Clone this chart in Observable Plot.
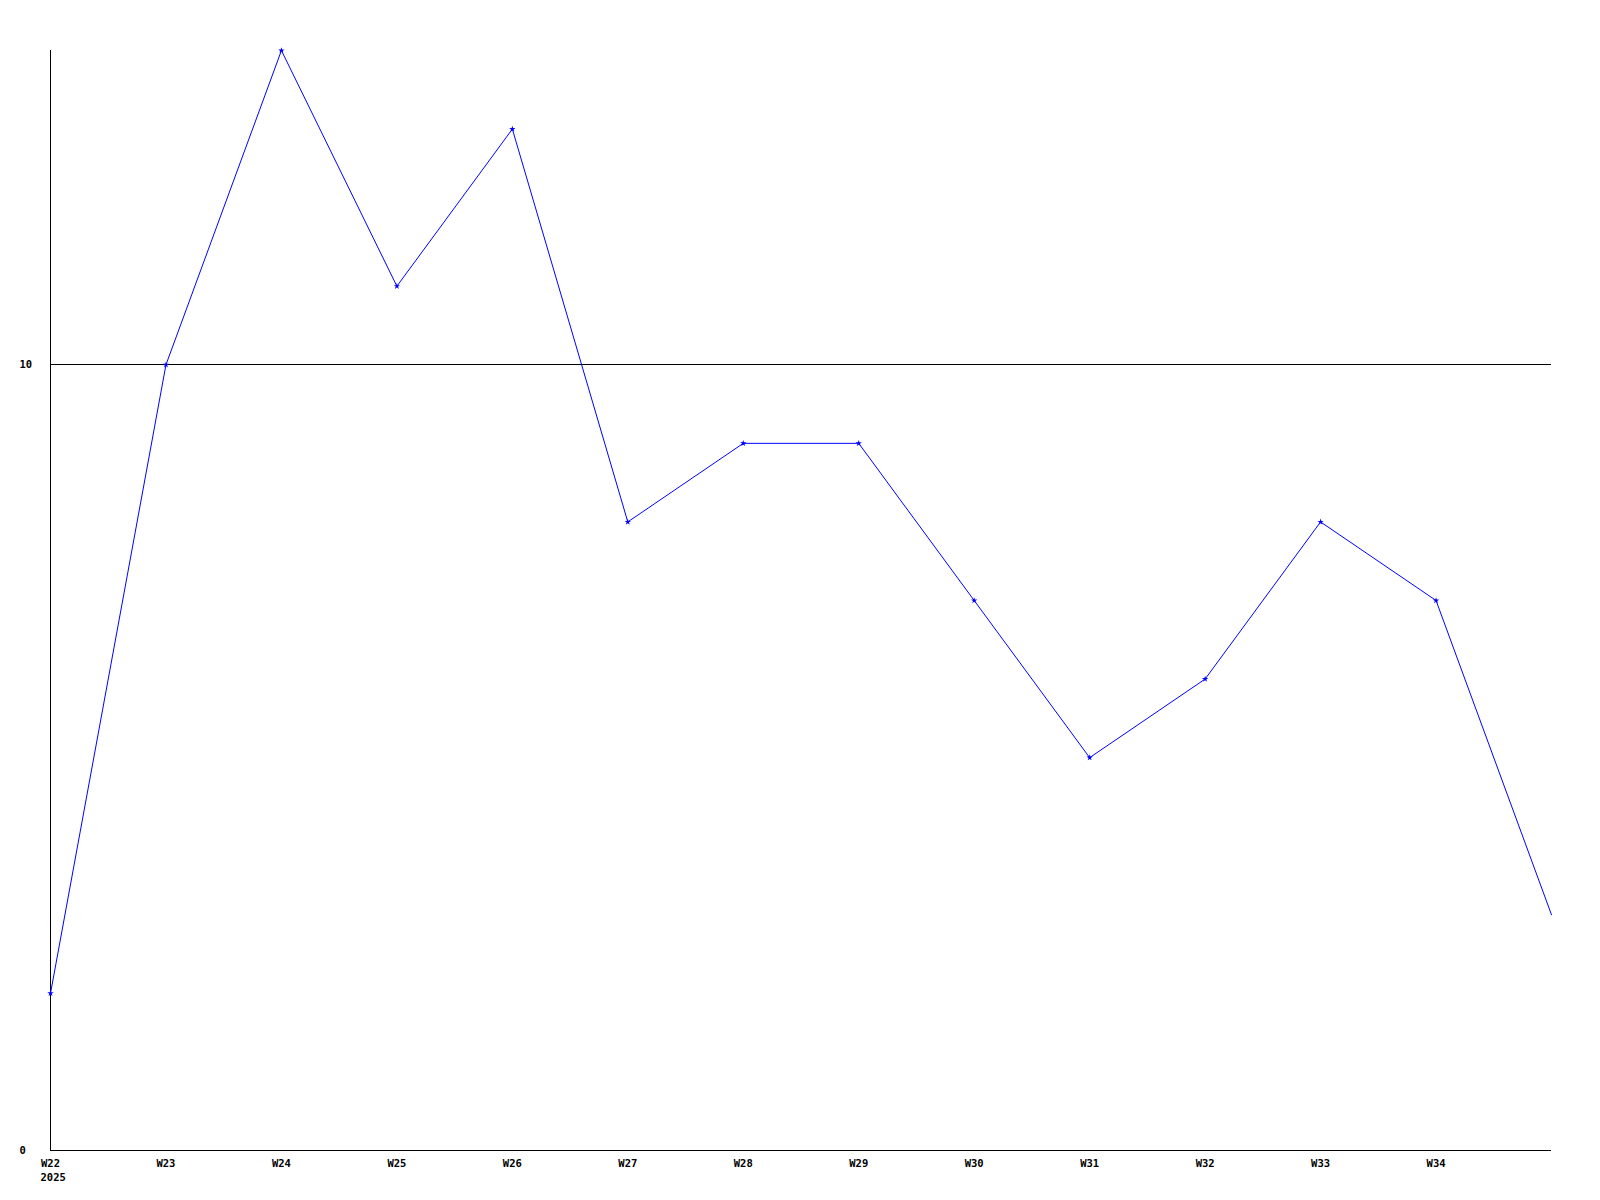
<!DOCTYPE html>
<html>
<head>
<meta charset="utf-8">
<script src="https://cdn.jsdelivr.net/npm/d3@7"></script>
<script src="https://cdn.jsdelivr.net/npm/@observablehq/plot@0.6"></script>
<style>
  html, body { margin: 0; padding: 0; background: #fff; }
  svg { display: block; }
</style>
</head>
<body>
<div id="chart"></div>
<script>
const weeks = ["W22","W23","W24","W25","W26","W27","W28","W29","W30","W31","W32","W33","W34","W35"];
const values = [2, 10, 14, 11, 13, 8, 9, 9, 7, 5, 6, 8, 7, 3];
const yearLabel = "2025";
const yTicks = [0, 10];

const data = weeks.map((w, i) => ({i, week: w, value: values[i]}));
const marked = data.slice(0, weeks.length - 1);

const font = "'DejaVu Sans Mono', monospace";

const chart = Plot.plot({
  width: 1600,
  height: 1200,
  marginLeft: 50,
  marginRight: 49,
  marginTop: 50,
  marginBottom: 50,
  style: {fontFamily: font, fontSize: "10.5px", fontWeight: "bold", color: "#000", background: "#fff"},
  x: {type: "linear", domain: [0, weeks.length - 1]},
  y: {domain: [0, 14]},
  marks: [
    Plot.ruleY([10], {stroke: "#000", strokeWidth: 1, shapeRendering: "crispEdges"}),
    Plot.ruleY([0], {stroke: "#000", strokeWidth: 1, shapeRendering: "crispEdges"}),
    Plot.ruleX([0], {y1: 0, y2: 14, stroke: "#000", strokeWidth: 1, shapeRendering: "crispEdges"}),
    Plot.axisX({
      ticks: d3.range(0, weeks.length - 1),
      tickFormat: i => weeks[i],
      tickSize: 0,
      tickPadding: 9,
      label: null,
      fill: "#000"
    }),
    Plot.text([0], {x: d => d, y: 0, text: () => yearLabel, textAnchor: "start", lineAnchor: "top", dx: -10, dy: 23, fill: "#000"}),
    Plot.axisY({
      ticks: yTicks,
      tickSize: 0,
      tickPadding: 3,
      textAnchor: "start",
      dx: -28,
      label: null,
      fill: "#000"
    }),
    Plot.line(data, {x: "i", y: "value", stroke: "#0000ff", strokeWidth: 1}),
    Plot.dot(marked, {x: "i", y: "value", symbol: "star", r: 2, fill: "#0000ff", stroke: "none"})
  ]
});
document.getElementById("chart").appendChild(chart);
</script>
</body>
</html>
